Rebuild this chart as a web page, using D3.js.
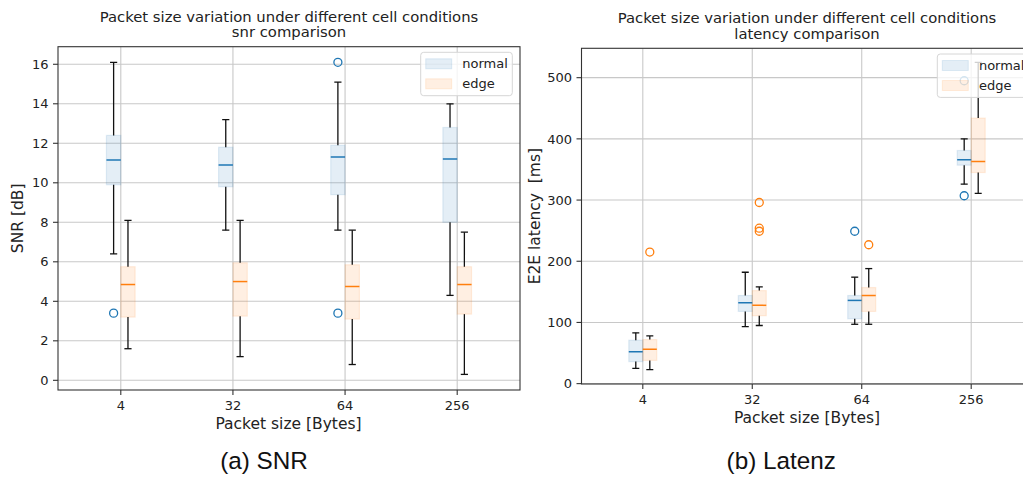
<!DOCTYPE html>
<html>
<head>
<meta charset="utf-8">
<script src="https://cdn.jsdelivr.net/npm/d3@7"></script>
<style>
  html, body { margin: 0; padding: 0; background: #fff; overflow: hidden; }
  svg { display: block; }
</style>
</head>
<body>
<svg id="chart" width="1023" height="478"></svg>
<script>
// ---------- DATA ----------
const categories = ["4", "32", "64", "256"];
const seriesNames = ["normal", "edge"];

// SNR [dB]
const snrNormalLow  = [6.4, 7.6, 7.6, 4.3];
const snrNormalQ1   = [9.9, 9.8, 9.4, 8.0];
const snrNormalMed  = [11.15, 10.9, 11.3, 11.2];
const snrNormalQ3   = [12.4, 11.8, 11.9, 12.8];
const snrNormalHigh = [16.1, 13.2, 15.1, 14.0];
const snrNormalOut  = [[3.4], [], [16.1, 3.4], []];

const snrEdgeLow  = [1.6, 1.2, 0.8, 0.3];
const snrEdgeQ1   = [3.2, 3.25, 3.1, 3.35];
const snrEdgeMed  = [4.85, 5.0, 4.75, 4.85];
const snrEdgeQ3   = [5.75, 5.95, 5.85, 5.75];
const snrEdgeHigh = [8.1, 8.1, 7.6, 7.5];
const snrEdgeOut  = [[], [], [], []];

// E2E latency [ms]
const latNormalLow  = [25, 93, 97, 326];
const latNormalQ1   = [36, 118, 106, 357];
const latNormalMed  = [52, 132, 136, 366];
const latNormalQ3   = [71, 144, 144, 381];
const latNormalHigh = [83, 182, 174, 400];
const latNormalOut  = [[], [], [249], [307, 495]];

const latEdgeLow  = [23, 95, 97, 311];
const latEdgeQ1   = [38, 111, 118, 345];
const latEdgeMed  = [56, 128, 144, 363];
const latEdgeQ3   = [72, 152, 157, 434];
const latEdgeHigh = [78, 158, 188, 525];
const latEdgeOut  = [[215], [296, 254, 249], [227], []];

const snrTicks = [0, 2, 4, 6, 8, 10, 12, 14, 16];
const latTicks = [0, 100, 200, 300, 400, 500];

// ---------- HELPERS ----------
function buildSeries(low, q1, med, q3, high, out) {
  return categories.map((c, i) => ({cat: c, idx: i, low: low[i], q1: q1[i], med: med[i], q3: q3[i], high: high[i], out: out[i]}));
}

const colors = {normal: "#1f77b4", edge: "#ff7f0e"};
const FONT = "'DejaVu Sans', sans-serif";
const svg = d3.select("#chart");

function panel(cfg) {
  const g = svg.append("g");
  const {left, right, top, bottom} = cfg.box;
  const x = d3.scaleLinear().domain([0.44, 4.56]).range([left, right]);
  const y = d3.scaleLinear().domain(cfg.yDomain).range([bottom, top]);
  const bw = 0.128;

  const clipId = "clip" + cfg.id;
  svg.append("clipPath").attr("id", clipId).append("rect")
    .attr("x", left).attr("y", top).attr("width", right - left).attr("height", bottom - top);

  const plot = g.append("g").attr("clip-path", `url(#${clipId})`);

  // grid
  plot.append("g").selectAll("line").data(cfg.yTicks).join("line")
    .attr("x1", left).attr("x2", right)
    .attr("y1", d => y(d)).attr("y2", d => y(d))
    .attr("stroke", "#c8c8c8").attr("stroke-width", 1.1);
  plot.append("g").selectAll("line").data(categories).join("line")
    .attr("x1", (d, i) => x(i + 1)).attr("x2", (d, i) => x(i + 1))
    .attr("y1", top).attr("y2", bottom)
    .attr("stroke", "#c8c8c8").attr("stroke-width", 1.1);

  const groups = [
    {name: "normal", data: cfg.normal, off: -bw},
    {name: "edge", data: cfg.edge, off: 0}
  ];

  groups.forEach(s => {
    const col = colors[s.name];
    const sg = plot.append("g");
    const x0 = d => x(d.idx + 1 + s.off);
    const x1 = d => x(d.idx + 1 + s.off + bw);
    const xc = d => x(d.idx + 1 + s.off + bw / 2);
    const capHalf = d => (x1(d) - x0(d)) / 4;

    sg.selectAll("rect").data(s.data).join("rect")
      .attr("x", x0).attr("width", d => x1(d) - x0(d))
      .attr("y", d => y(d.q3)).attr("height", d => y(d.q1) - y(d.q3))
      .attr("fill", col).attr("fill-opacity", 0.12)
      .attr("stroke", col).attr("stroke-opacity", 0.12).attr("stroke-width", 1.2);
    sg.selectAll("line.wl").data(s.data).join("line").attr("class", "wl")
      .attr("x1", xc).attr("x2", xc).attr("y1", d => y(d.q1)).attr("y2", d => y(d.low))
      .attr("stroke", "#111").attr("stroke-width", 1.3);
    sg.selectAll("line.wh").data(s.data).join("line").attr("class", "wh")
      .attr("x1", xc).attr("x2", xc).attr("y1", d => y(d.q3)).attr("y2", d => y(d.high))
      .attr("stroke", "#111").attr("stroke-width", 1.3);
    sg.selectAll("line.cl").data(s.data).join("line").attr("class", "cl")
      .attr("x1", d => xc(d) - capHalf(d)).attr("x2", d => xc(d) + capHalf(d))
      .attr("y1", d => y(d.low)).attr("y2", d => y(d.low))
      .attr("stroke", "#111").attr("stroke-width", 1.3);
    sg.selectAll("line.ch").data(s.data).join("line").attr("class", "ch")
      .attr("x1", d => xc(d) - capHalf(d)).attr("x2", d => xc(d) + capHalf(d))
      .attr("y1", d => y(d.high)).attr("y2", d => y(d.high))
      .attr("stroke", "#111").attr("stroke-width", 1.3);
    sg.selectAll("line.md").data(s.data).join("line").attr("class", "md")
      .attr("x1", x0).attr("x2", x1).attr("y1", d => y(d.med)).attr("y2", d => y(d.med))
      .attr("stroke", col).attr("stroke-width", 1.5);
    const outs = s.data.flatMap(d => d.out.map(v => ({d, v})));
    sg.selectAll("circle").data(outs).join("circle")
      .attr("cx", o => xc(o.d)).attr("cy", o => y(o.v)).attr("r", 4)
      .attr("fill", "none").attr("stroke", col).attr("stroke-width", 1.3);
  });

  // legend
  const lg = g.append("g").attr("transform", `translate(${cfg.legendX},${cfg.legendY})`);
  lg.append("rect").attr("x", 0).attr("y", 0).attr("width", 91.6).attr("height", 43.4)
    .attr("rx", 3).attr("fill", "#fff").attr("fill-opacity", 0.8)
    .attr("stroke", "#d6d6d6").attr("stroke-width", 1);
  seriesNames.forEach((n, i) => {
    lg.append("rect").attr("x", 5).attr("y", 6.5 + i * 20).attr("width", 26).attr("height", 10)
      .attr("fill", colors[n]).attr("fill-opacity", 0.12)
      .attr("stroke", colors[n]).attr("stroke-opacity", 0.12);
    lg.append("text").attr("x", 41.6).attr("y", 11.5 + i * 20).attr("dy", "0.36em")
      .attr("font-family", FONT).attr("font-size", 13).attr("fill", "#222").text(n);
  });

  // spines
  g.append("rect").attr("x", left).attr("y", top).attr("width", right - left).attr("height", bottom - top)
    .attr("fill", "none").attr("stroke", "#333").attr("stroke-width", 1.1);

  // ticks
  const xt = g.append("g");
  categories.forEach((c, i) => {
    xt.append("line").attr("x1", x(i + 1)).attr("x2", x(i + 1)).attr("y1", bottom).attr("y2", bottom + 5)
      .attr("stroke", "#333").attr("stroke-width", 1.1);
    xt.append("text").attr("x", x(i + 1)).attr("y", bottom + 19.5).attr("text-anchor", "middle")
      .attr("font-family", FONT).attr("font-size", 13).attr("fill", "#222").text(c);
  });
  cfg.yTicks.forEach(t => {
    xt.append("line").attr("x1", left - 5).attr("x2", left).attr("y1", y(t)).attr("y2", y(t))
      .attr("stroke", "#333").attr("stroke-width", 1.1);
    xt.append("text").attr("x", left - 9.5).attr("y", y(t)).attr("dy", "0.36em").attr("text-anchor", "end")
      .attr("font-family", FONT).attr("font-size", 13).attr("fill", "#222").text(t);
  });

  // axis labels
  g.append("text").attr("x", cfg.xLabelX)
    .attr("y", bottom + 39).attr("text-anchor", "middle")
    .attr("font-family", FONT).attr("font-size", 15.5).attr("fill", "#222").text("Packet size [Bytes]");
  g.append("text").attr("transform", `translate(${cfg.yLabelX},${(top + bottom) / 2}) rotate(-90)`)
    .attr("text-anchor", "middle").attr("font-family", FONT).attr("font-size", 15.5).attr("fill", "#222")
    .attr("xml:space", "preserve").style("white-space", "pre").text(cfg.yLabel);

  // titles
  const tc = (left + right) / 2;
  g.append("text").attr("x", tc).attr("y", top - 25).attr("text-anchor", "middle")
    .attr("font-family", FONT).attr("font-size", 14.8).attr("fill", "#222")
    .text("Packet size variation under different cell conditions");
  g.append("text").attr("x", tc).attr("y", top - 9.8).attr("text-anchor", "middle")
    .attr("font-family", FONT).attr("font-size", 14.8).attr("fill", "#222").text(cfg.subtitle);

  // caption
  g.append("text").attr("x", cfg.captionX).attr("y", 469).attr("text-anchor", "middle")
    .attr("font-family", "'Liberation Sans', Arial, sans-serif").attr("font-size", 24.3).attr("fill", "#111")
    .text(cfg.caption);
}

panel({
  id: "a",
  box: {left: 58, right: 520, top: 46.7, bottom: 390},
  yDomain: [-0.49, 16.89],
  yTicks: snrTicks,
  normal: buildSeries(snrNormalLow, snrNormalQ1, snrNormalMed, snrNormalQ3, snrNormalHigh, snrNormalOut),
  edge: buildSeries(snrEdgeLow, snrEdgeQ1, snrEdgeMed, snrEdgeQ3, snrEdgeHigh, snrEdgeOut),
  legendX: 420.7, legendY: 52.3,
  xLabelX: 288.5,
  yLabelX: 23.3,
  yLabel: "SNR [dB]",
  subtitle: "snr comparison",
  caption: "(a) SNR",
  captionX: 264
});

panel({
  id: "b",
  box: {left: 581.5, right: 1032.5, top: 48.3, bottom: 384},
  yDomain: [-0.6, 548],
  yTicks: latTicks,
  normal: buildSeries(latNormalLow, latNormalQ1, latNormalMed, latNormalQ3, latNormalHigh, latNormalOut),
  edge: buildSeries(latEdgeLow, latEdgeQ1, latEdgeMed, latEdgeQ3, latEdgeHigh, latEdgeOut),
  legendX: 937.3, legendY: 54,
  xLabelX: 807,
  yLabelX: 540,
  yLabel: "E2E latency  [ms]",
  subtitle: "latency comparison",
  caption: "(b) Latenz",
  captionX: 781.3
});
</script>
</body>
</html>
